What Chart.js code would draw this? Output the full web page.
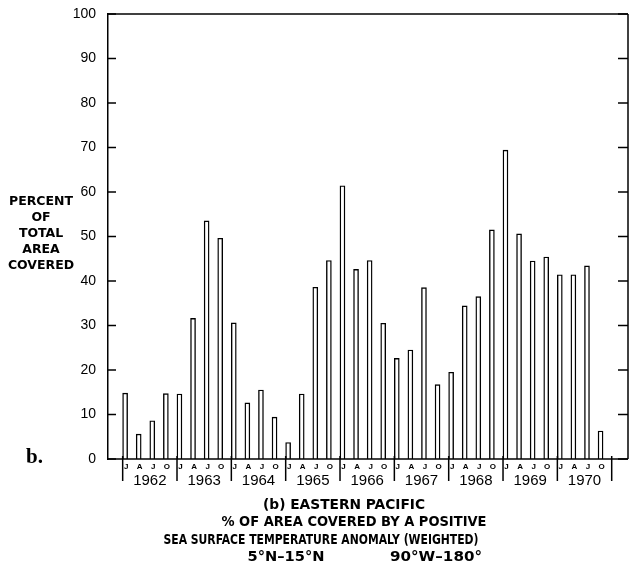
<!DOCTYPE html>
<html>
<head>
<meta charset="utf-8">
<script src="https://cdn.jsdelivr.net/npm/chart.js@4.4.1/dist/chart.umd.min.js"></script>
<style>
  html, body { margin: 0; padding: 0; background: #fff; }
  #wrap { width: 629px; height: 579px; }
</style>
</head>
<body>
<div id="wrap"><canvas id="sstChart" width="629" height="579"></canvas></div>
<script>
// quarterly % of area with positive SST anomaly, Eastern Pacific 5N-15N
const years = ['1962', '1963', '1964', '1965', '1966', '1967', '1968', '1969', '1970'];
const quarterLabels = ['J', 'A', 'J', 'O'];
const percentCovered = [
  14.8, 5.6, 8.6, 14.7,
  14.6, 31.6, 53.5, 49.6,
  30.6, 12.6, 15.5, 9.4,
  3.7, 14.6, 38.6, 44.6,
  61.4, 42.6, 44.6, 30.5,
  22.6, 24.5, 38.5, 16.7,
  19.5, 34.4, 36.5, 51.5,
  69.4, 50.6, 44.5, 45.4,
  41.4, 41.4, 43.4, 6.3
];
const yTicks = [0, 10, 20, 30, 40, 50, 60, 70, 80, 90, 100];
const axisTitle = ['PERCENT', 'OF', 'TOTAL', 'AREA', 'COVERED'];
const caption = [
  '(b) EASTERN PACIFIC',
  '% OF AREA COVERED BY A POSITIVE',
  'SEA SURFACE TEMPERATURE ANOMALY (WEIGHTED)',
  '5°N\u201315°N',
  '90°W\u2013180°'
];

const barOffset = 0.18; // bars sit near the start of each quarter slot

const points = percentCovered.map(function(v, i) {
  return { x: i + barOffset, y: v };
});

function fitText(ctx, text, cx, cy, w) {
  const m = ctx.measureText(text).width;
  ctx.save();
  ctx.translate(cx, cy);
  ctx.scale(w / m, 1);
  ctx.fillText(text, 0, 0);
  ctx.restore();
}

const decorations = {
  id: 'decorations',
  afterDraw: function(chart) {
    const ctx = chart.ctx;
    const a = chart.chartArea;
    const xs = chart.scales.x;
    const ys = chart.scales.y;
    ctx.save();
    ctx.strokeStyle = '#000';
    ctx.fillStyle = '#000';
    ctx.lineWidth = 1.5;
    function line(x1, y1, x2, y2) {
      ctx.beginPath(); ctx.moveTo(x1, y1); ctx.lineTo(x2, y2); ctx.stroke();
    }
    // frame
    line(a.left, a.top, a.right, a.top);
    line(a.right, a.top, a.right, a.bottom);
    line(a.left, a.bottom, a.right, a.bottom);
    // inward ticks both sides
    yTicks.forEach(function(v) {
      const py = ys.getPixelForValue(v);
      line(a.left, py, a.left + 8, py);
      line(a.right - 10, py, a.right, py);
    });
    // year separators
    for (let i = 0; i <= years.length; i++) {
      const px = xs.getPixelForValue(i * 4);
      line(px, a.bottom - 3, px, a.bottom + 22);
    }
    // quarter letters
    ctx.textAlign = 'center';
    ctx.textBaseline = 'middle';
    ctx.font = 'bold 8px "Liberation Sans", sans-serif';
    years.forEach(function(yr, i) {
      quarterLabels.forEach(function(q, k) {
        ctx.fillText(q, xs.getPixelForValue(i * 4 + k + barOffset) + 1, a.bottom + 8);
      });
    });
    // year labels
    ctx.font = '15px "Liberation Sans", sans-serif';
    years.forEach(function(yr, i) {
      ctx.fillText(yr, xs.getPixelForValue(i * 4 + 2), a.bottom + 22);
    });
    // left title
    ctx.font = 'bold 13px "DejaVu Sans Condensed", "Liberation Sans", sans-serif';
    const s = 64 / ctx.measureText('PERCENT').width;
    axisTitle.forEach(function(t, i) {
      fitText(ctx, t, 41, 202 + i * 16, ctx.measureText(t).width * s);
    });
    // panel letter
    ctx.font = 'bold 21px "Liberation Serif", serif';
    ctx.textAlign = 'left';
    ctx.textBaseline = 'alphabetic';
    ctx.fillText('b.', 26, 463);
    // caption
    ctx.textAlign = 'center';
    ctx.textBaseline = 'middle';
    ctx.font = 'bold 14px "DejaVu Sans Condensed", "Liberation Sans", sans-serif';
    fitText(ctx, caption[0], 344, 505, 162);
    fitText(ctx, caption[1], 354, 522, 265);
    fitText(ctx, caption[2], 321, 540, 315);
    fitText(ctx, caption[3], 286, 557, 77);
    fitText(ctx, caption[4], 436, 557, 92);
    ctx.restore();
  }
};

new Chart(document.getElementById('sstChart').getContext('2d'), {
  type: 'bar',
  data: {
    datasets: [{
      data: points,
      backgroundColor: '#fff',
      borderColor: '#000',
      borderWidth: 1.4,
      borderSkipped: 'bottom',
      barThickness: 5
    }]
  },
  options: {
    responsive: false,
    animation: false,
    layout: { padding: { left: 0, right: 1, top: 14, bottom: 120 } },
    plugins: { legend: { display: false }, tooltip: { enabled: false } },
    scales: {
      x: {
        type: 'linear',
        min: -1.08,
        max: 37.2,
        offset: false,
        display: false
      },
      y: {
        min: 0,
        max: 100,
        afterFit: function(scale) { scale.width = 108; },
        afterBuildTicks: function(scale) {
          scale.ticks = yTicks.map(function(v) { return { value: v }; });
        },
        grid: { display: false },
        border: { display: true, color: '#000', width: 1.5 },
        ticks: {
          color: '#000',
          padding: 4,
          font: { family: '"Liberation Sans", sans-serif', size: 14 }
        }
      }
    }
  },
  plugins: [decorations]
});
</script>
</body>
</html>
